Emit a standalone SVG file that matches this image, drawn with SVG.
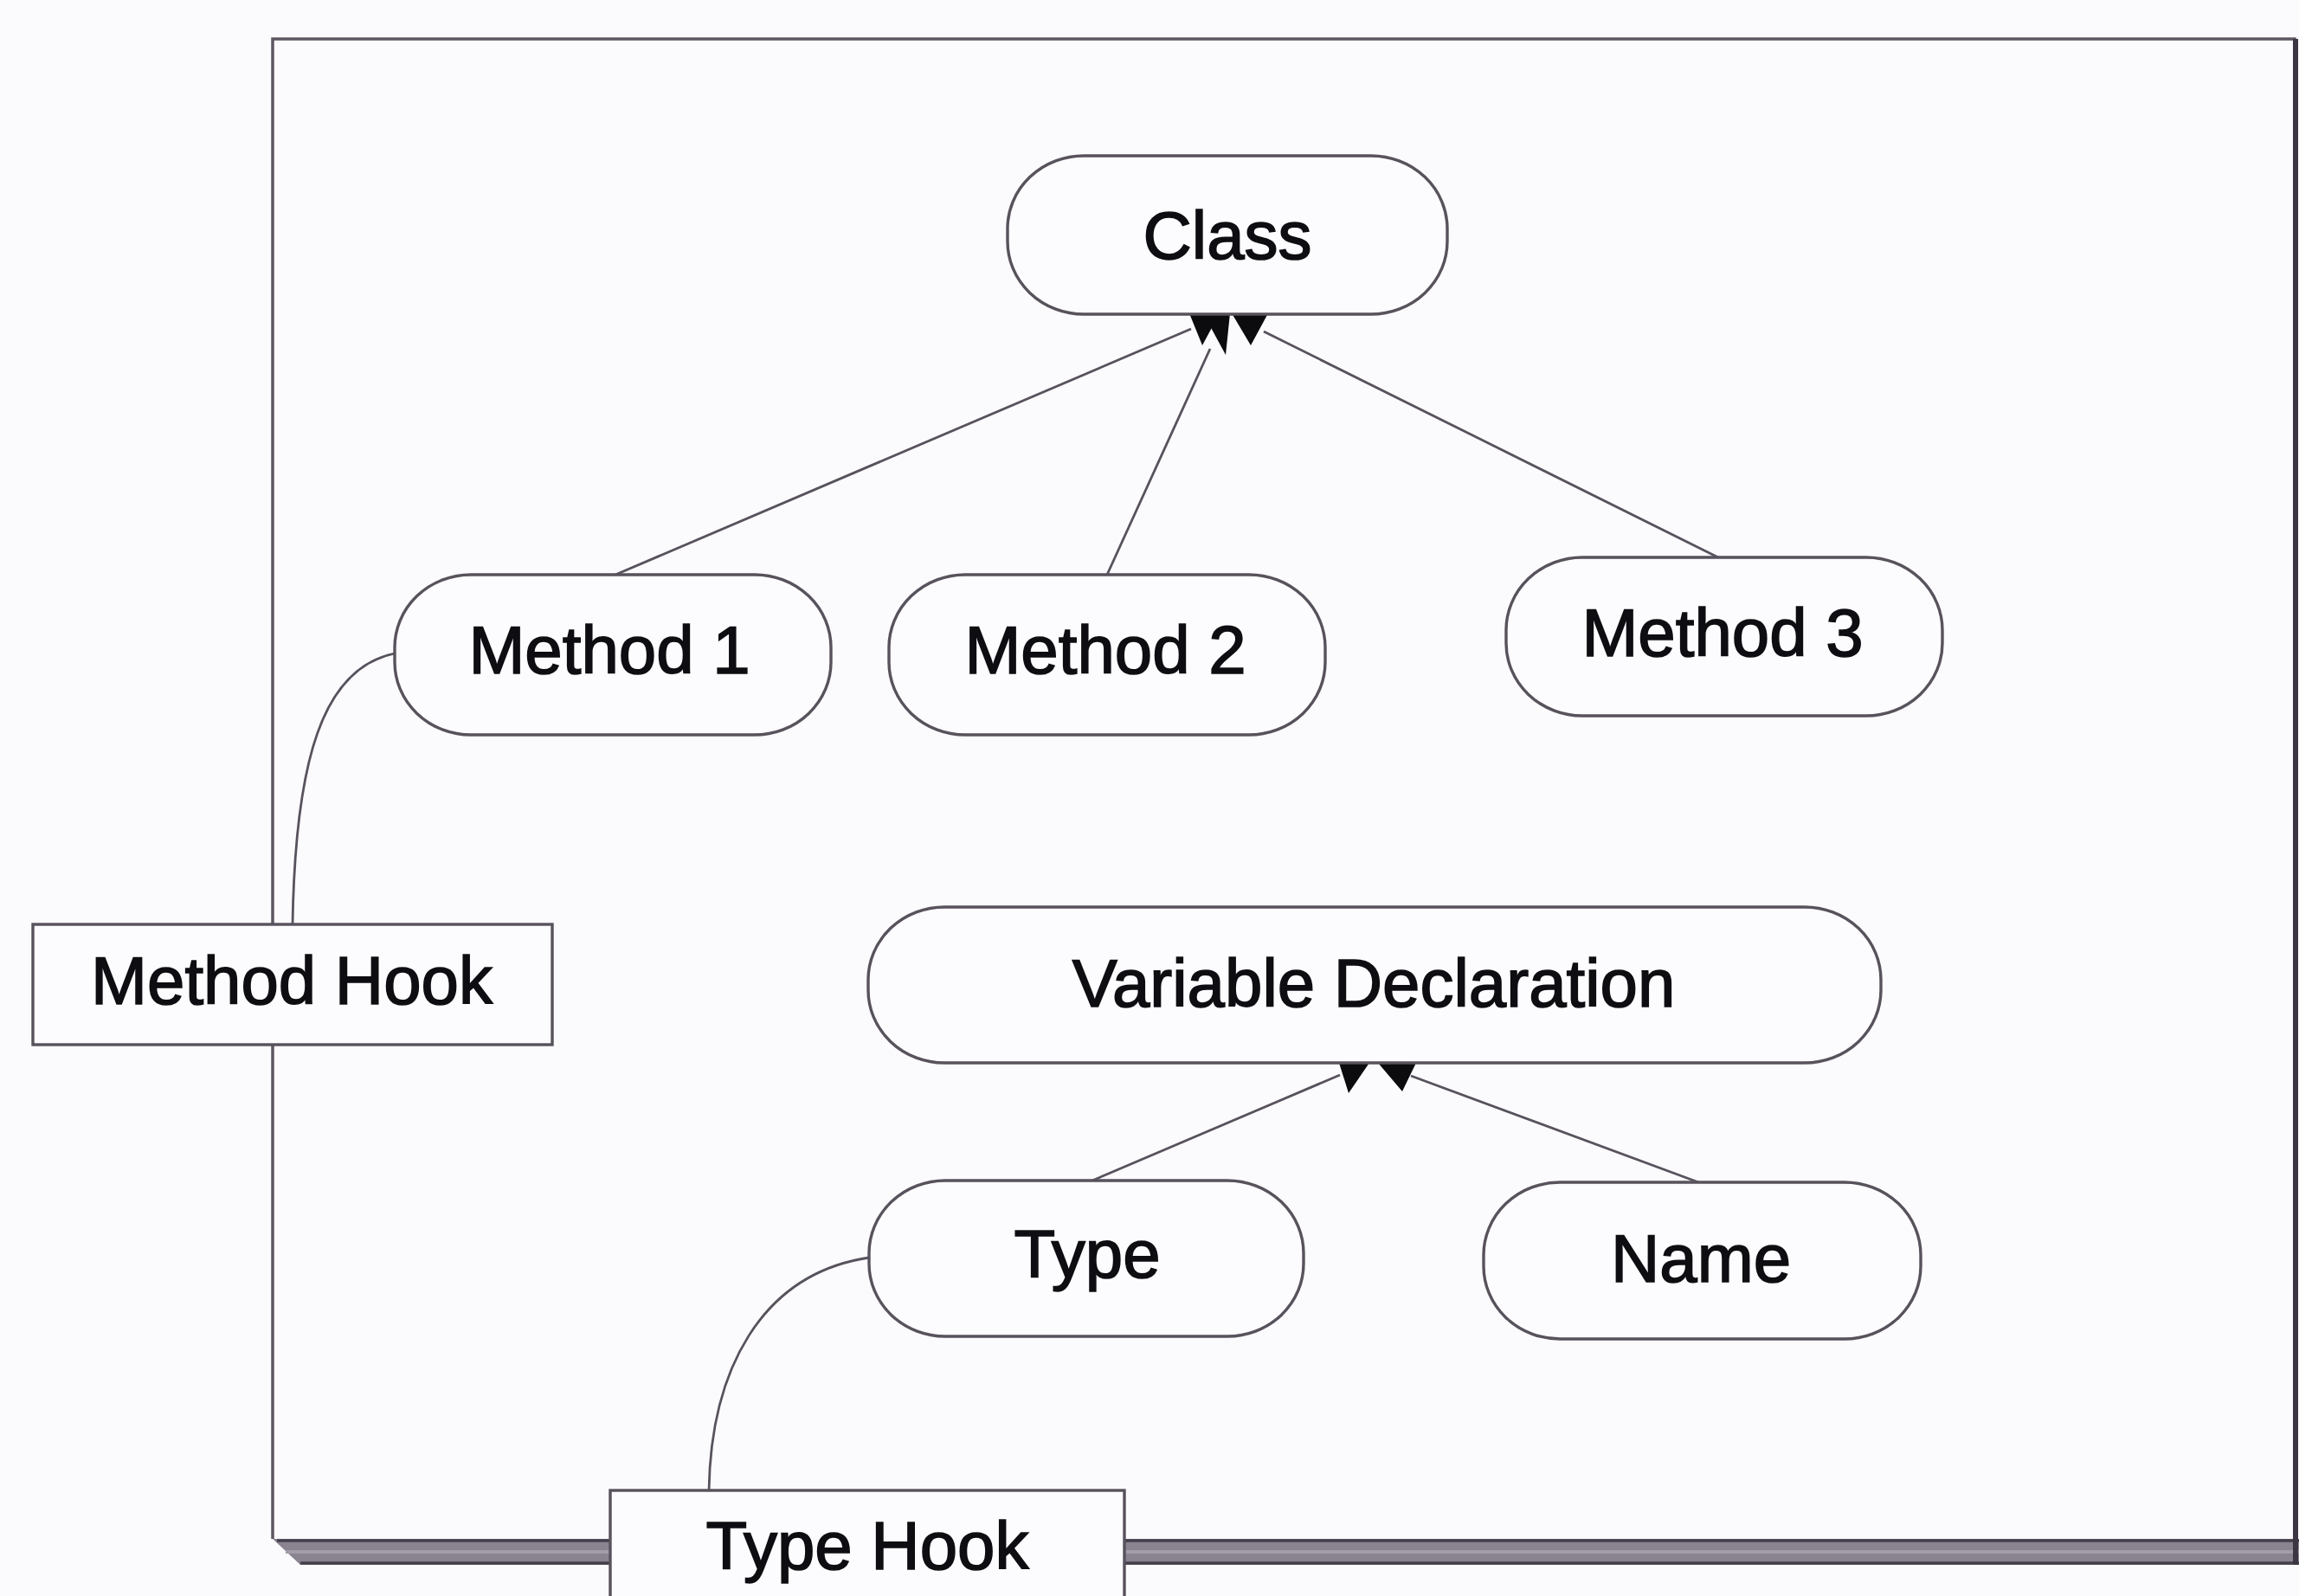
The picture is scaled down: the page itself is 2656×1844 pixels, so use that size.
<svg xmlns="http://www.w3.org/2000/svg" width="2656" height="1844" viewBox="0 0 2656 1844">
  <defs>
    <style>
      .pill { fill: #fcfbfd; stroke: #57525c; stroke-width: 3.4; }
      .box { fill: #fcfbfd; stroke: #57525c; stroke-width: 3.4; }
      .lbl { font-family: "Liberation Sans", Arial, sans-serif; font-size: 78px; fill: #0e0d11; text-anchor: middle; stroke: #0e0d11; stroke-width: 1.6; }
      .edge { fill: none; stroke: #57525d; stroke-width: 2.8; }
      .head { fill: #0c0b0e; stroke: none; }
      .frame { fill: none; stroke: #5d5763; stroke-width: 3.5; }
    </style>
  </defs>

  <!-- paper -->
  <rect x="0" y="0" width="2656" height="1844" fill="#fbfafc"/>

  <!-- outer panel with drop shadow along the bottom -->
  <g id="panel">
    <polygon points="315,1778 2656,1778 2656,1808 347,1808" fill="#8a8390"/>
    <line x1="320" y1="1780" x2="2656" y2="1780" stroke="#463f4c" stroke-width="3.5"/>
    <line x1="347" y1="1806" x2="2656" y2="1806" stroke="#463f4c" stroke-width="3.5"/>
    <line x1="330" y1="1793" x2="2656" y2="1793" stroke="#a39cab" stroke-width="4"/>
    <path class="frame" d="M315,1778 L315,45 L2651,45 L2651,1778"/>
    <line x1="2652" y1="45" x2="2652" y2="1808" stroke="#3c3642" stroke-width="6"/>
  </g>

  <!-- connectors -->
  <g id="connectors">
    <line class="edge" x1="711" y1="664" x2="1376" y2="380"/>
    <line class="edge" x1="1279" y1="664" x2="1398" y2="403"/>
    <line class="edge" x1="1985" y1="644" x2="1460" y2="383"/>
    <line class="edge" x1="1262" y1="1364" x2="1548" y2="1242"/>
    <line class="edge" x1="1965" y1="1367" x2="1630" y2="1243"/>
    <path class="edge" d="M338,1068 C341,880 372,772 456,755"/>
    <path class="edge" d="M819,1723 C821,1585 878,1472 1004,1453"/>
    <polygon class="head" points="1374,362 1409,362 1389,399"/>
    <polygon class="head" points="1390,362 1421,362 1416,410"/>
    <polygon class="head" points="1423,362 1465,362 1445,399"/>
    <polygon class="head" points="1547,1228 1582,1228 1558,1263"/>
    <polygon class="head" points="1592,1228 1636,1228 1620,1261"/>
  </g>

  <g id="class">
    <rect class="pill" x="1164" y="180" width="508" height="183" rx="88" ry="84"/>
    <text class="lbl" x="1418" y="299">Class</text>
  </g>

  <g id="method1">
    <rect class="pill" x="456" y="664" width="504" height="185" rx="88" ry="84"/>
    <text class="lbl" x="704" y="778">Method 1</text>
  </g>

  <g id="method2">
    <rect class="pill" x="1027" y="664" width="504" height="185" rx="88" ry="84"/>
    <text class="lbl" x="1277" y="778">Method 2</text>
  </g>

  <g id="method3">
    <rect class="pill" x="1740" y="644" width="504" height="183" rx="88" ry="84"/>
    <text class="lbl" x="1990" y="758">Method 3</text>
  </g>

  <g id="variable-declaration">
    <rect class="pill" x="1003" y="1048" width="1170" height="180" rx="88" ry="84"/>
    <text class="lbl" x="1587" y="1163">Variable Declaration</text>
  </g>

  <g id="type">
    <rect class="pill" x="1004" y="1364" width="502" height="180" rx="88" ry="84"/>
    <text class="lbl" x="1256" y="1476">Type</text>
  </g>

  <g id="name">
    <rect class="pill" x="1714" y="1366" width="505" height="181" rx="88" ry="84"/>
    <text class="lbl" x="1965" y="1481">Name</text>
  </g>

  <g id="method-hook">
    <rect class="box" x="38" y="1068" width="600" height="139"/>
    <text class="lbl" x="337" y="1160">Method Hook</text>
  </g>

  <g id="type-hook">
    <rect class="box" x="705" y="1722" width="594" height="140"/>
    <text class="lbl" x="1002" y="1813">Type Hook</text>
  </g>
</svg>
